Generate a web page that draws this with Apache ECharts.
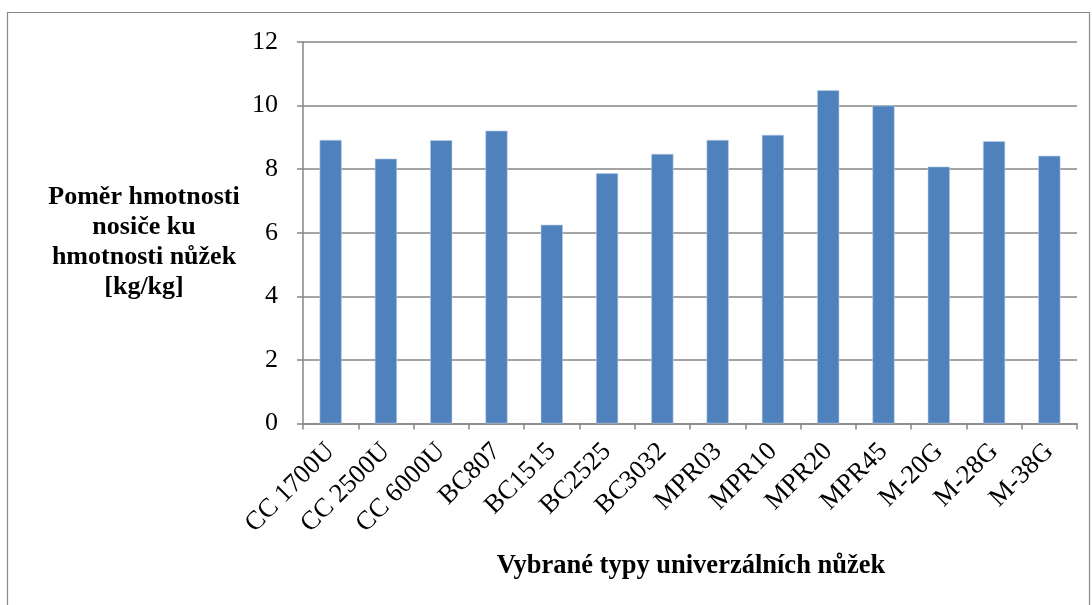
<!DOCTYPE html>
<html>
<head>
<meta charset="utf-8">
<script src="https://cdn.jsdelivr.net/npm/echarts@6/dist/echarts.min.js"></script>
<style>
  html, body { margin: 0; padding: 0; background: #fff; }
  #chart { width: 1092px; height: 605px; }
</style>
</head>
<body>
<div id="chart"></div>
<script>
// Data
const categories = ['CC 1700U', 'CC 2500U', 'CC 6000U', 'BC807', 'BC1515', 'BC2525', 'BC3032',
    'MPR03', 'MPR10', 'MPR20', 'MPR45', 'M-20G', 'M-28G', 'M-38G'];
const ratios = [8.92, 8.33, 8.91, 9.21, 6.25, 7.87, 8.48, 8.92, 9.08, 10.48, 10.0, 8.08, 8.88, 8.42];

const FONT = '"Liberation Serif", "Times New Roman", serif';
const GRID_COLOR = '#868686';

const chart = echarts.init(document.getElementById('chart'));

chart.setOption({
    animation: false,
    backgroundColor: '#fff',
    grid: { left: 303, right: 15, top: 42, bottom: 181.5 },
    xAxis: {
        type: 'category',
        data: categories,
        axisLine: { lineStyle: { color: GRID_COLOR, width: 1.5 } },
        axisTick: { show: true, length: 6, lineStyle: { color: GRID_COLOR, width: 1.5 } },
        axisLabel: {
            rotate: 45,
            interval: 0,
            margin: 24,
            color: '#000',
            fontFamily: FONT,
            fontSize: 26.5
        }
    },
    yAxis: {
        type: 'value',
        min: 0,
        max: 12,
        interval: 2,
        axisLine: { show: true, lineStyle: { color: GRID_COLOR, width: 1.5 } },
        axisTick: { show: true, length: 6, lineStyle: { color: GRID_COLOR, width: 1.5 } },
        splitLine: { lineStyle: { color: GRID_COLOR, width: 1.5 } },
        axisLabel: {
            margin: 25,
            color: '#000',
            fontFamily: FONT,
            fontSize: 26
        }
    },
    series: [{
        type: 'bar',
        data: ratios,
        barWidth: '40%',
        itemStyle: { color: '#4F81BD', borderColor: '#B9CDE5', borderWidth: 0.6 }
    }],
    graphic: [
        {
            type: 'rect',
            shape: { x: 7.5, y: 12.5, width: 1082, height: 610 },
            style: { fill: 'none', stroke: '#898989', lineWidth: 1.2 },
            z: -1
        },
        {
            type: 'text',
            x: 144,
            y: 242,
            style: {
                text: 'Poměr hmotnosti\nnosiče ku\nhmotnosti nůžek\n[kg/kg]',
                align: 'center',
                verticalAlign: 'middle',
                font: 'bold 26px ' + FONT,
                lineHeight: 30,
                fill: '#000'
            }
        },
        {
            type: 'text',
            x: 691,
            y: 566,
            style: {
                text: 'Vybrané typy univerzálních nůžek',
                align: 'center',
                verticalAlign: 'middle',
                font: 'bold 26.5px ' + FONT,
                fill: '#000'
            }
        }
    ]
});
</script>
</body>
</html>
